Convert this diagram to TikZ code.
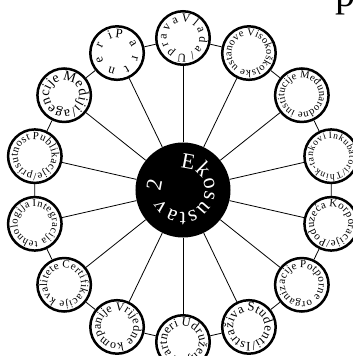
\documentclass[tikz,border=0pt]{standalone}
\usepackage{fontspec}
\setmainfont{Liberation Serif}
\usetikzlibrary{decorations.text}
\tikzset{
  outerc/.style={circle, draw=black, line width=2.5pt, minimum size=53.5pt, inner sep=0pt, fill=white},
  hub/.style={circle, fill=black, minimum size=95pt, inner sep=0pt},
  link/.style={line width=0.8pt, draw=black},
}
\newcommand\ringtext[3]{%
  \path[decorate, decoration={text along path, text align={fit to path},
      text={|\fontsize{#2}{#2}\selectfont|#3}}]
   (#1.center) ++(97:{(24.5-0.68*#2)*1pt})
   arc[start angle=97, end angle=-255, radius={(24.5-0.68*#2)*1pt}];
}
\begin{document}
\begin{tikzpicture}[x=1pt,y=1pt]
\useasboundingbox (-183,-166) rectangle (170,190);
\node[hub] (c) at (0,0) {};
\foreach \i in {0,...,13} {
  \node[outerc] (o\i) at ({90-\i*360/14}:152) {};
}
\foreach \i [evaluate=\i as \j using {int(mod(\i+1,14))}] in {0,...,13} {
  \draw[link] (c) -- (o\i);
  \draw[link] (o\i) -- (o\j);
}
\ringtext{o0}{12}{Vlada/Uprava}
\ringtext{o1}{10.5}{Visokoškolske ustanove}
\ringtext{o2}{10.5}{Međunarodne institucije}
\ringtext{o3}{9.5}{Inkubatori/Think-tankovi}
\ringtext{o4}{11}{Korporacije/Poduzeća}
\ringtext{o5}{11}{Potporne organizacije}
\ringtext{o6}{13}{Studenti/Istraživa}
\ringtext{o7}{12.5}{Udruženja/Partneri}
\ringtext{o8}{12}{Vrijedne kompanije}
\ringtext{o9}{11}{Certifikacije kvalitete}
\ringtext{o10}{10.5}{Integracija tehnologija}
\ringtext{o11}{11}{Publikacije/prisutnost}
\ringtext{o12}{14}{Mediji/agencije}
\ringtext{o13}{13}{Partneri}
\path[decorate, decoration={text along path, text align={fit to path}, text color=white,
    text={|\fontsize{22}{22}\selectfont|Ekosustav 2}}]
  (c.center) ++(97:22pt) arc[start angle=97, end angle=-205, radius=22pt];
\node[anchor=base west, inner sep=0pt, font=\fontsize{40}{40}\selectfont] (p) at (152,183) {p};
\end{tikzpicture}
\end{document}
